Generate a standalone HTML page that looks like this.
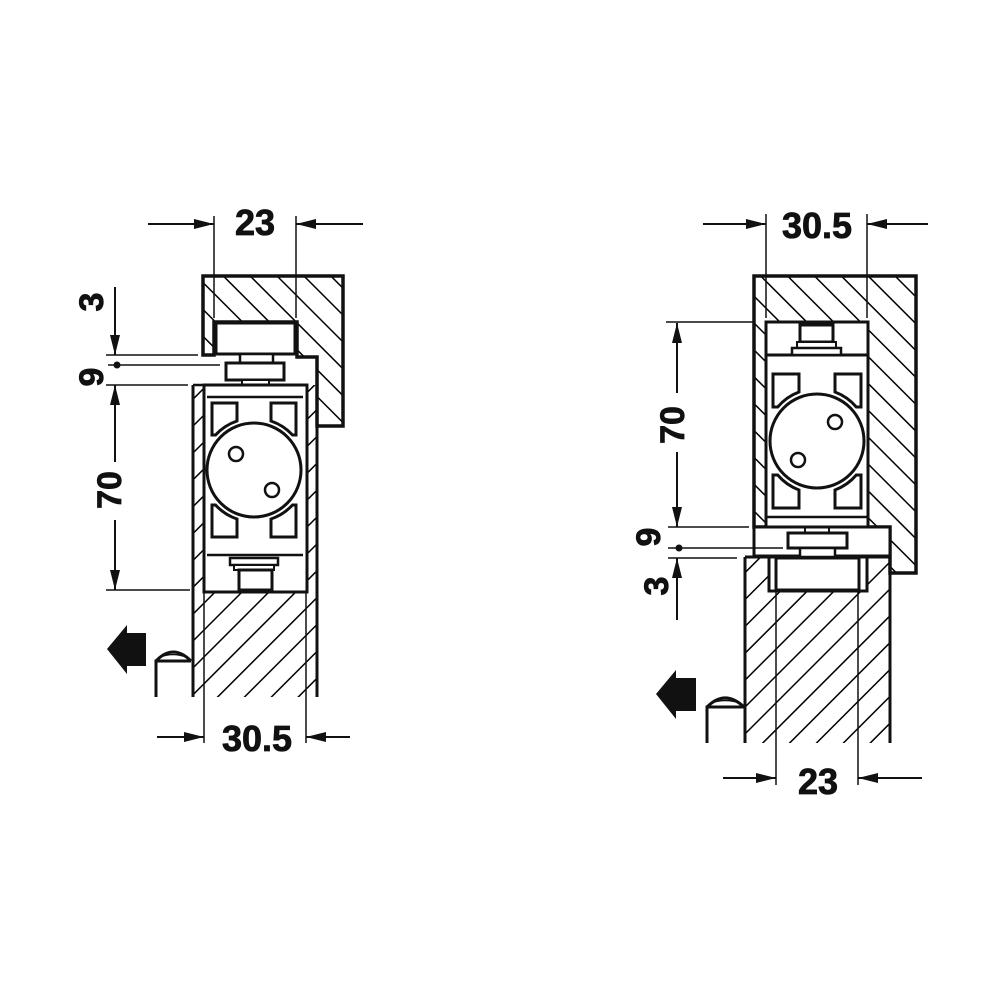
<!DOCTYPE html>
<html><head><meta charset="utf-8"><style>
html,body{margin:0;padding:0;background:#fff;}
svg{display:block;}
text{font-family:"Liberation Sans",sans-serif;font-weight:bold;fill:#111;stroke:#111;stroke-width:0.8;}
</style></head><body>
<svg width="1000" height="1000" viewBox="0 0 1000 1000" xmlns="http://www.w3.org/2000/svg">
<defs>
<pattern id="hf" patternUnits="userSpaceOnUse" width="19" height="19" patternTransform="rotate(45)">
<line x1="0" y1="0" x2="0" y2="19" stroke="#000" stroke-width="3"/></pattern>
<pattern id="hb" patternUnits="userSpaceOnUse" width="19" height="19" patternTransform="rotate(-45)">
<line x1="0" y1="0" x2="0" y2="19" stroke="#000" stroke-width="3"/></pattern>
<marker id="ar" viewBox="0 0 20 10" refX="20" refY="5" markerWidth="20" markerHeight="10" markerUnits="userSpaceOnUse" orient="auto">
<path d="M0,0 L20,5 L0,10 Z" fill="#111"/></marker>
</defs>
<g stroke="#111" fill="none">

<!-- ===== LEFT ===== -->
<path d="M203,276 H343 V426 H317 V357 H297 V322 H214 V355 H203 Z" fill="url(#hb)" stroke-width="3.5"/>
<rect x="216" y="323" width="79" height="31" fill="#fff" stroke-width="3"/>
<rect x="240" y="354" width="33" height="9" fill="#fff" stroke-width="2.5"/>
<rect x="226" y="363" width="58" height="17" fill="#fff" stroke-width="3"/>
<rect x="242" y="380" width="27" height="5" fill="#fff" stroke-width="2"/>
<rect x="193" y="385" width="11" height="312" fill="url(#hf)" stroke="none"/>
<rect x="306" y="385" width="11" height="312" fill="url(#hf)" stroke="none"/>
<rect x="204" y="592" width="102" height="105" fill="url(#hf)" stroke="none"/>
<line x1="193" y1="385" x2="193" y2="697" stroke-width="3"/>
<line x1="317" y1="357" x2="317" y2="697" stroke-width="3"/>
<line x1="297" y1="357" x2="317" y2="357" stroke-width="3"/>
<line x1="193" y1="385" x2="297" y2="385" stroke-width="2.5"/>
<line x1="204" y1="592" x2="204" y2="743" stroke-width="1.5"/>
<line x1="306" y1="592" x2="306" y2="743" stroke-width="1.5"/>
<rect x="204" y="385" width="103" height="207" fill="#fff" stroke-width="3"/>
<line x1="207" y1="397" x2="303" y2="397" stroke-width="2.5"/>
<line x1="207" y1="555" x2="303" y2="555" stroke-width="2.5"/>
<g stroke-width="3">
<path d="M212,403 H237 V421 A52 52 0 0 0 215.5,435 H212 Z"/>
<path d="M296,403 H271 V421 A52 52 0 0 1 292.5,435 H296 Z"/>
<path d="M212,537 H237 V519 A52 52 0 0 1 215.5,505 H212 Z"/>
<path d="M296,537 H271 V519 A52 52 0 0 0 292.5,505 H296 Z"/>
</g>
<circle cx="254" cy="470" r="47" fill="#fff" stroke-width="3"/>
<circle cx="236" cy="454" r="7" stroke-width="2.5"/>
<circle cx="272" cy="490" r="7" stroke-width="2.5"/>
<rect x="230" y="558" width="48" height="7" fill="#fff" stroke-width="2.5"/>
<rect x="234" y="565" width="40" height="5" fill="#fff" stroke-width="2"/>
<rect x="239" y="570" width="33" height="20" fill="#fff" stroke-width="3"/>
<line x1="214" y1="216" x2="214" y2="318" stroke-width="1.5"/>
<line x1="296" y1="216" x2="296" y2="318" stroke-width="1.5"/>
<line x1="148" y1="224" x2="214" y2="224" stroke-width="2" marker-end="url(#ar)"/>
<line x1="363" y1="224" x2="296" y2="224" stroke-width="2" marker-end="url(#ar)"/>
<line x1="157" y1="737" x2="204" y2="737" stroke-width="2" marker-end="url(#ar)"/>
<line x1="350" y1="737" x2="306" y2="737" stroke-width="2" marker-end="url(#ar)"/>
<line x1="115" y1="287" x2="115" y2="355" stroke-width="2" marker-end="url(#ar)"/>
<line x1="115" y1="462" x2="115" y2="385" stroke-width="2" marker-end="url(#ar)"/>
<line x1="115" y1="520" x2="115" y2="590" stroke-width="2" marker-end="url(#ar)"/>
<line x1="106" y1="355" x2="198" y2="355" stroke-width="1.5"/>
<line x1="108" y1="365" x2="220" y2="365" stroke-width="1.5"/>
<line x1="106" y1="385" x2="188" y2="385" stroke-width="1.5"/>
<line x1="106" y1="590" x2="190" y2="590" stroke-width="1.5"/>
<circle cx="117" cy="365" r="3.5" fill="#111" stroke="none"/>
<path d="M107,649 L127,625 V633 H146 V666 H127 V674 Z" fill="#111" stroke="none"/>
<path d="M156,697 V661 H191 M156,661 Q173,643 191,661" stroke-width="3"/>
<path d="M160,657 Q173,652 186,657" stroke-width="1.5"/>

<!-- ===== RIGHT ===== -->
<path d="M754,276 H916 V573 H890 V527 H754 Z" fill="url(#hb)" stroke-width="3.5"/>
<rect x="745" y="557" width="145" height="186" fill="url(#hf)" stroke="none"/>
<line x1="745" y1="557" x2="745" y2="743" stroke-width="3"/>
<line x1="890" y1="527" x2="890" y2="743" stroke-width="3"/>
<line x1="745" y1="557" x2="769" y2="557" stroke-width="3"/>
<line x1="867" y1="557" x2="890" y2="557" stroke-width="3"/>
<rect x="754" y="527" width="136" height="29" fill="#fff" stroke-width="3"/>
<rect x="769" y="557" width="98" height="34" fill="#fff" stroke-width="3"/>
<rect x="776" y="558" width="83" height="32" fill="#fff" stroke-width="3"/>
<line x1="776" y1="591" x2="776" y2="785" stroke-width="1.5"/>
<line x1="858" y1="591" x2="858" y2="785" stroke-width="1.5"/>
<rect x="805" y="527" width="24" height="6" fill="#fff" stroke-width="2"/>
<rect x="788" y="533" width="59" height="15" fill="#fff" stroke-width="3"/>
<rect x="800" y="548" width="35" height="9" fill="#fff" stroke-width="2.5"/>
<rect x="766" y="322" width="102" height="205" fill="#fff" stroke-width="3"/>
<line x1="766" y1="355" x2="868" y2="355" stroke-width="3"/>
<line x1="766" y1="517" x2="868" y2="517" stroke-width="2.5"/>
<rect x="800" y="325" width="33" height="17" fill="#fff" stroke-width="3"/>
<rect x="797" y="342" width="39" height="6" fill="#fff" stroke-width="2"/>
<rect x="792" y="348" width="49" height="7" fill="#fff" stroke-width="2.5"/>
<g stroke-width="3">
<path d="M773,374 H799 V392 A52 52 0 0 0 777.7,407 H773 Z"/>
<path d="M861,374 H835 V392 A52 52 0 0 1 856.3,407 H861 Z"/>
<path d="M773,508 H799 V490 A52 52 0 0 1 777.7,475 H773 Z"/>
<path d="M861,508 H835 V490 A52 52 0 0 0 856.3,475 H861 Z"/>
</g>
<circle cx="817" cy="441" r="47" fill="#fff" stroke-width="3"/>
<circle cx="835" cy="422" r="7" stroke-width="2.5"/>
<circle cx="798" cy="460" r="7" stroke-width="2.5"/>
<line x1="766" y1="214" x2="766" y2="318" stroke-width="1.5"/>
<line x1="867" y1="214" x2="867" y2="318" stroke-width="1.5"/>
<line x1="703" y1="224" x2="766" y2="224" stroke-width="2" marker-end="url(#ar)"/>
<line x1="928" y1="224" x2="867" y2="224" stroke-width="2" marker-end="url(#ar)"/>
<line x1="723" y1="778" x2="776" y2="778" stroke-width="2" marker-end="url(#ar)"/>
<line x1="922" y1="778" x2="858" y2="778" stroke-width="2" marker-end="url(#ar)"/>
<line x1="677" y1="393" x2="677" y2="323" stroke-width="2" marker-end="url(#ar)"/>
<line x1="677" y1="452" x2="677" y2="527" stroke-width="2" marker-end="url(#ar)"/>
<line x1="677" y1="620" x2="677" y2="558" stroke-width="2" marker-end="url(#ar)"/>
<line x1="666" y1="322" x2="753" y2="322" stroke-width="1.5"/>
<line x1="668" y1="527" x2="749" y2="527" stroke-width="1.5"/>
<line x1="668" y1="548" x2="783" y2="548" stroke-width="1.5"/>
<line x1="668" y1="558" x2="737" y2="558" stroke-width="1.5"/>
<circle cx="679" cy="548" r="3.5" fill="#111" stroke="none"/>
<path d="M656,694 L676,670 V678 H696 V711 H676 V719 Z" fill="#111" stroke="none"/>
<path d="M707,743 V707 H744 M707,707 Q725,689 744,707" stroke-width="3"/>
<path d="M711,703 Q725,698 740,703" stroke-width="1.5"/>
</g>

<text x="255" y="235" font-size="36" text-anchor="middle">23</text>
<text x="257" y="751" font-size="36" text-anchor="middle">30.5</text>
<text x="817" y="238" font-size="36" text-anchor="middle">30.5</text>
<text x="818" y="794" font-size="36" text-anchor="middle">23</text>
<text transform="translate(103,302) rotate(-90)" font-size="34" text-anchor="middle">3</text>
<text transform="translate(103,377) rotate(-90)" font-size="34" text-anchor="middle">9</text>
<text transform="translate(121,490) rotate(-90)" font-size="34" text-anchor="middle">70</text>
<text transform="translate(684,425) rotate(-90)" font-size="34" text-anchor="middle">70</text>
<text transform="translate(660,537) rotate(-90)" font-size="34" text-anchor="middle">9</text>
<text transform="translate(668,586) rotate(-90)" font-size="34" text-anchor="middle">3</text>
</svg>
</body></html>
